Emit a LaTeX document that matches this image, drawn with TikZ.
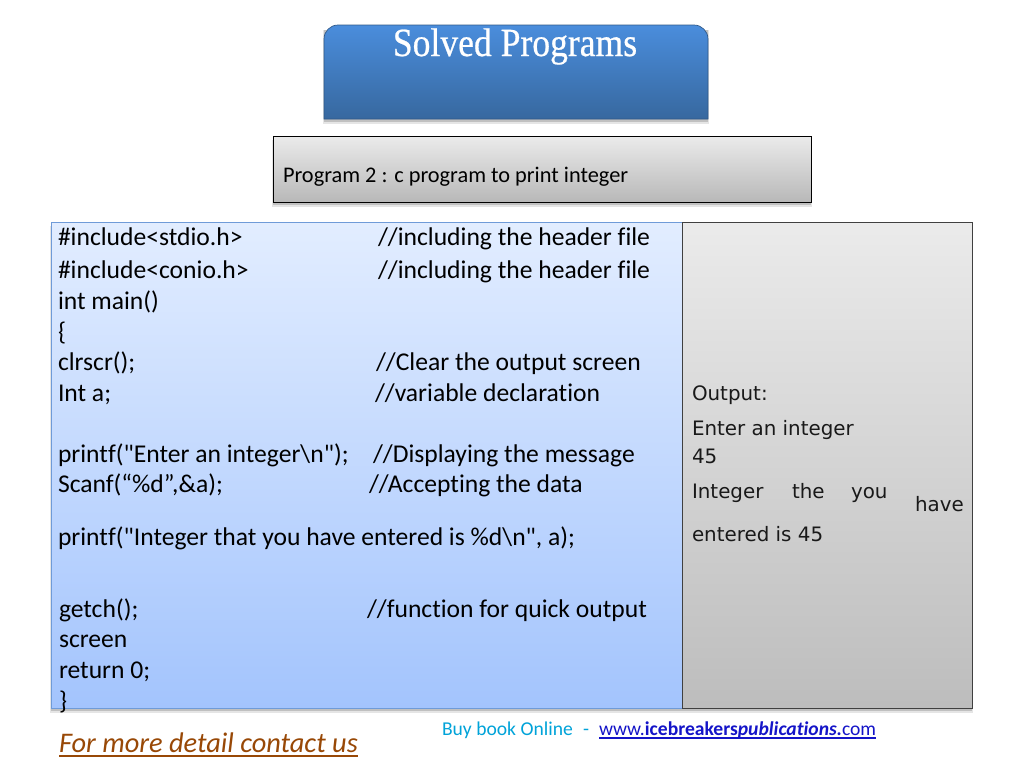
\documentclass[tikz,border=0pt]{standalone}
\usepackage{fontspec}
\setmainfont{Carlito}[Ligatures={TeXOff,NoCommon}]
\newfontfamily\outfont{DejaVu Sans}
\newfontfamily\titlefont{Liberation Serif}[FakeBold=0.6]
\usetikzlibrary{calc}
\definecolor{hTop}{HTML}{4A8DDC}
\definecolor{hBot}{HTML}{37689F}
\definecolor{cyanT}{HTML}{00A3D9}
\definecolor{linkB}{HTML}{1414C8}
\definecolor{brownL}{HTML}{984806}
\definecolor{blueTop}{HTML}{E2EDFF}
\definecolor{blueBot}{HTML}{A3C4FD}
\definecolor{blueEdge}{HTML}{6F9BD8}
\tikzset{
  x=0.75pt,y=-0.75pt,
  code/.style={anchor=base west,inner sep=0pt,outer sep=0pt,font=\fontsize{19.2}{19.2}\selectfont,text=black},
  outp/.style={anchor=base west,inner sep=0pt,outer sep=0pt,font=\outfont\fontsize{14.9}{14.9}\selectfont,text=black!90},
  softa/.style={fill=black,opacity=0.10,draw=none},
  softb/.style={fill=black,opacity=0.16,draw=none},
}
\begin{document}
\begin{tikzpicture}
\useasboundingbox (0,0) rectangle (1024,768);
\fill[white] (0,0) rectangle (1024,768);
% header
\fill[softa] (323,30) rectangle (709,124);
\fill[softb] (324,30) rectangle (708,122);
\path[draw=hBot!85!black,line width=0.5pt,top color=hTop,bottom color=hBot]
  (324,119) -- (324,39) arc[start angle=180,end angle=90,x radius=14,y radius=-14] -- (694,25) arc[start angle=90,end angle=0,x radius=14,y radius=-14] -- (708,119) -- cycle;
\node[anchor=base,inner sep=0pt,text=white,font=\titlefont\fontsize{30}{30}\selectfont] (title) at (515,56) {\scalebox{0.89}[1]{Solved Programs}};
% program bar
\fill[softa] (272,140) rectangle (812,207);
\fill[softb] (273,140) rectangle (811,205);
\node[draw=black,line width=0.8pt,top color=black!8,bottom color=black!28,minimum width=403.5pt,minimum height=49.5pt,inner sep=0pt,anchor=north west] (bar) at (273,136) {};
\node[code,font=\fontsize{16.75}{16.75}\selectfont] (bart) at (283,182.5) {Program 2 : c program to print integer};
% shadows
\fill[softa] (50,226) rectangle (973,713);
\fill[softb] (51,226) rectangle (972,711);
% main boxes
\node[draw=blueEdge,line width=0.6pt,top color=blueTop,bottom color=blueBot,minimum width=473.25pt,minimum height=364.5pt,inner sep=0pt,anchor=north west] (codebox) at (51,222) {};
\node[draw=black!75,line width=0.9pt,top color=black!8,bottom color=black!26,minimum width=217.5pt,minimum height=364.5pt,inner sep=0pt,anchor=north west] (outbox) at (682,222) {};
% code
\node[code] (a1) at (58,245.5) {\#include<stdio.h>};
\node[code] (c1) at (378,245.5) {//including the header file};
\node[code] (a2) at (58,278.5) {\#include<conio.h>};
\node[code] (c2) at (378,278.5) {//including the header file};
\node[code] (a3) at (58,309) {int main()};
\node[code] (a4) at (58,340) {\{};
\node[code] (a5) at (58,370.5) {clrscr();};
\node[code] (c5) at (376,370.5) {//Clear the output screen};
\node[code] (a6) at (58,401.5) {Int a;};
\node[code] (c6) at (375,401.5) {//variable declaration};
\node[code] (a7) at (58,462.5) {printf("Enter an integer\textbackslash n");};
\node[code] (c7) at (373,462.5) {//Displaying the message};
\node[code] (a8) at (58,492.5) {Scanf(“\%d”,\&a);};
\node[code] (c8) at (369,492.5) {//Accepting the data};
\node[code] (a9) at (58,545) {printf("Integer that you have entered is \%d\textbackslash n", a);};
\node[code] (a10) at (59,617) {getch();};
\node[code] (c10) at (367,617) {//function for quick output};
\node[code] (a11) at (59,647) {screen};
\node[code] (a12) at (59,678) {return 0;};
\node[code] (a13) at (59,709) {\}};
% output
\node[outp] (o1) at (692,400) {Output:};
\node[outp] (o2) at (692,435) {Enter an integer};
\node[outp] (o3) at (692,463) {45};
\node[outp] (o4) at (692,498) {Integer};
\node[outp] (o5) at (792,498) {the};
\node[outp] (o6) at (851,498) {you};
\node[outp] (o7) at (915,511) {have};
\node[outp] (o8) at (692,541) {entered is 45};
% footer
\node[code,text=brownL,font=\itshape\fontsize{21.3}{21.3}\selectfont] (more) at (59,752) {For more detail contact us};
\draw[brownL,line width=1pt] ($(more.base west)+(0,4)$) -- ($(more.base east)+(0,4)$);
\node[code,text=cyanT,font=\fontsize{14.7}{14.7}\selectfont] (buy) at (442,735) {Buy book Online\hspace{0.3em} -};
\node[code,text=linkB,font=\fontsize{14.7}{14.7}\selectfont] (link) at (599,735) {www.\textbf{icebreakers\textit{publications.}}com};
\draw[linkB,line width=0.8pt] ($(link.base west)+(0,3)$) -- ($(link.base east)+(0,3)$);
\end{tikzpicture}
\end{document}
